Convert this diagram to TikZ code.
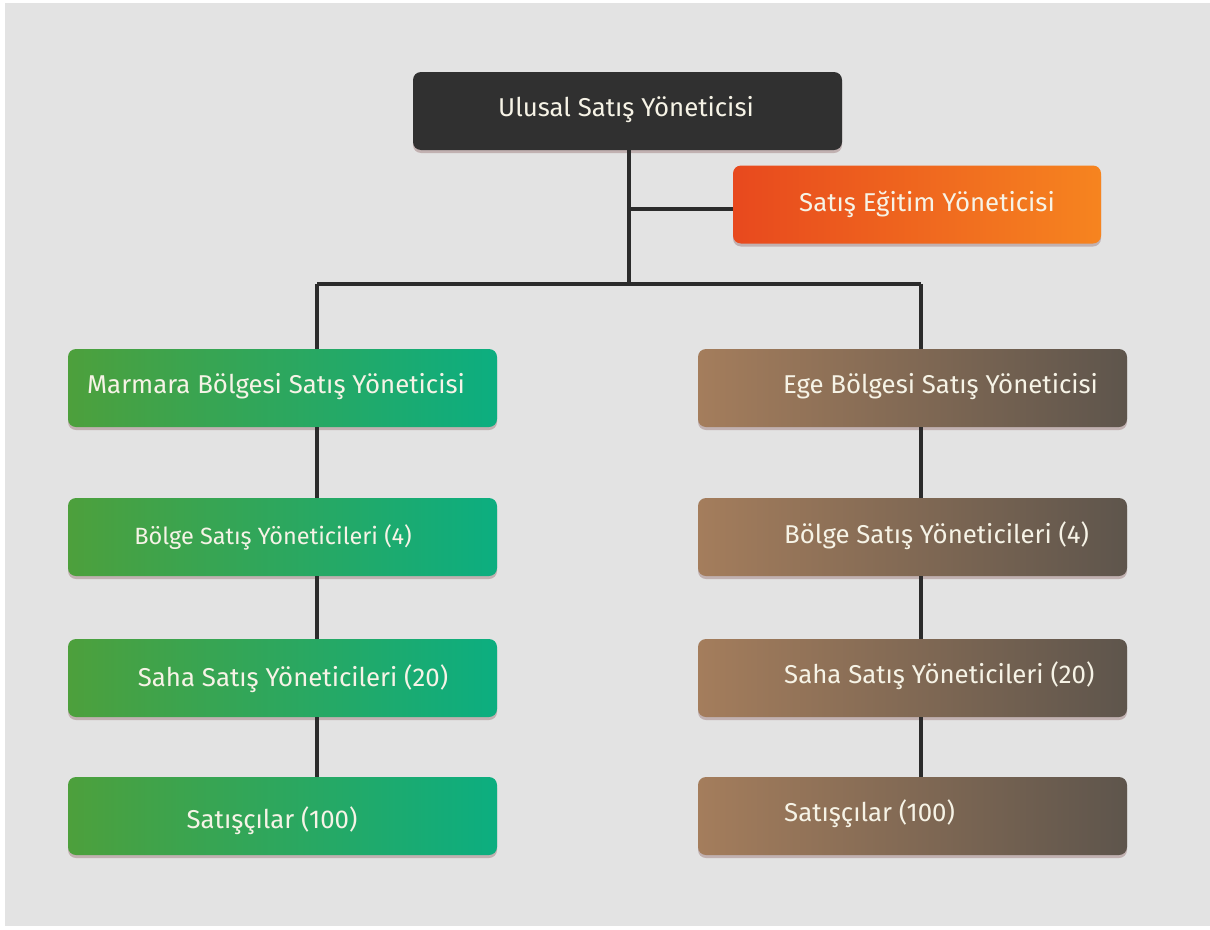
\documentclass[tikz,border=0pt]{standalone}
\usepackage{fontspec}
\setmainfont{Fira Sans}[Ligatures=NoCommon]
\usetikzlibrary{shadows}
\definecolor{bggray}{HTML}{E3E3E3}
\definecolor{linedark}{HTML}{2B2B2B}
\definecolor{topbox}{HTML}{303030}
\definecolor{orangeL}{HTML}{E8491E}
\definecolor{orangeR}{HTML}{F6841F}
\definecolor{greenL}{HTML}{4DA03C}
\definecolor{greenR}{HTML}{0CAE80}
\definecolor{brownL}{HTML}{A47D5C}
\definecolor{brownR}{HTML}{5E554C}
\definecolor{txtlight}{HTML}{F6F3E6}
\begin{document}
\begin{tikzpicture}[x=1pt,y=-1pt,
  card/.style={rounded corners=8pt, inner sep=0pt, minimum height=78pt,
    drop shadow={opacity=0.22, shadow xshift=0pt, shadow yshift=-3pt, fill=black!70!red}},
  widecard/.style={card, minimum width=429pt},
  darkcard/.style={widecard, fill=topbox},
  orangecard/.style={card, minimum width=368pt, left color=orangeL, right color=orangeR},
  greencard/.style={widecard, left color=greenL, right color=greenR},
  browncard/.style={widecard, left color=brownL, right color=brownR},
  lbl/.style={text=txtlight, inner sep=0pt, font=\fontsize{25.8}{30}\selectfont},
  smalllbl/.style={lbl, font=\fontsize{23.5}{28}\selectfont},
  link/.style={draw=linedark, line width=4pt}]

% page and background panel
\useasboundingbox (0,0) rectangle (1210,929);
\fill[white] (0,0) rectangle (1210,929);
\fill[bggray] (5,3) rectangle (1210,926);

% branch points of the connectors
\coordinate (split) at (629,284);
\coordinate (lsplit) at (317,284);
\coordinate (rsplit) at (921,284);
\coordinate (side) at (629,209);

% boxes
\node[darkcard] (top) at (627.5,111) {};
\node[orangecard] (train) at (917,204.5) {};
\node[greencard] (m1) at (282.5,388) {};
\node[greencard] (m2) at (282.5,537) {};
\node[greencard] (m3) at (282.5,678) {};
\node[greencard] (m4) at (282.5,816) {};
\node[browncard] (e1) at (912.5,388) {};
\node[browncard] (e2) at (912.5,537) {};
\node[browncard] (e3) at (912.5,678) {};
\node[browncard] (e4) at (912.5,816) {};

% labels
\node[lbl] (toptxt) at (626,110) {Ulusal Satış Yöneticisi};
\node[lbl] (traintxt) at (927,204) {Satış Eğitim Yöneticisi};
\node[lbl] (m1txt) at (276,387) {Marmara Bölgesi Satış Yöneticisi};
\node[smalllbl] (m2txt) at (273,537) {Bölge Satış Yöneticileri (4)};
\node[lbl] (m3txt) at (293,679) {Saha Satış Yöneticileri (20)};
\node[lbl] (m4txt) at (272,821) {Satışçılar (100)};
\node[lbl, anchor=west] (e1txt) at (783,387) {Ege Bölgesi Satış Yöneticisi};
\node[lbl, anchor=west] (e2txt) at (784,536) {Bölge Satış Yöneticileri (4)};
\node[lbl, anchor=west] (e3txt) at (784,676) {Saha Satış Yöneticileri (20)};
\node[lbl, anchor=west] (e4txt) at (784,814) {Satışçılar (100)};

% connectors drawn from box to box
\draw[link] (top.south -| split) -- (split);
\draw[link] (side) -- (side -| train.west);
\draw[link] (lsplit) -- (rsplit);
\draw[link] (lsplit) -- (m1.north -| lsplit);
\draw[link] (rsplit) -- (e1.north -| rsplit);
\draw[link] (m1.south -| lsplit) -- (m2.north -| lsplit);
\draw[link] (m2.south -| lsplit) -- (m3.north -| lsplit);
\draw[link] (m3.south -| lsplit) -- (m4.north -| lsplit);
\draw[link] (e1.south -| rsplit) -- (e2.north -| rsplit);
\draw[link] (e2.south -| rsplit) -- (e3.north -| rsplit);
\draw[link] (e3.south -| rsplit) -- (e4.north -| rsplit);
\end{tikzpicture}
\end{document}
